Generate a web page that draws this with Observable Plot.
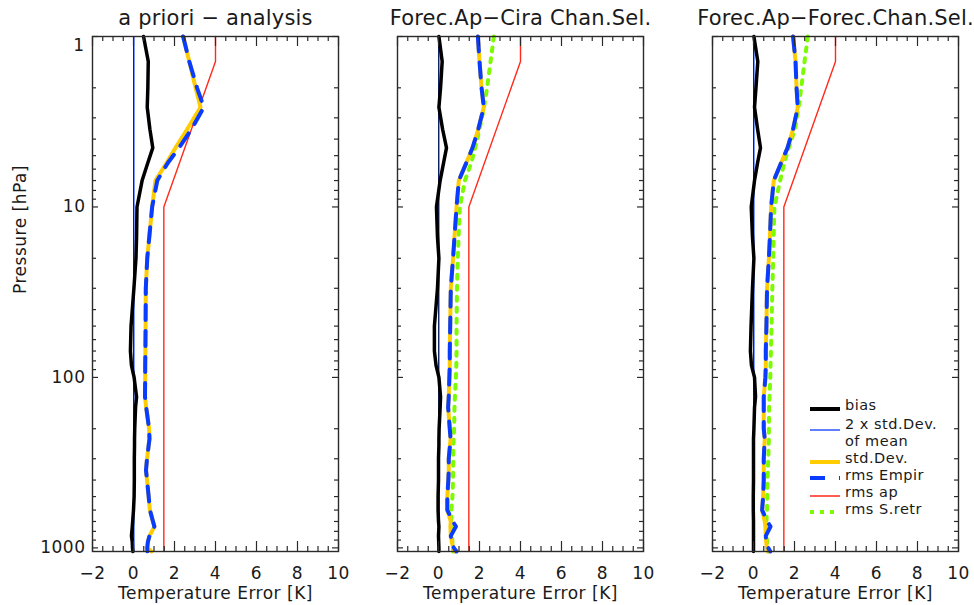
<!DOCTYPE html>
<html><head><meta charset="utf-8">
<script src="https://cdn.jsdelivr.net/npm/d3@7"></script>
<script src="https://cdn.jsdelivr.net/npm/@observablehq/plot@0.6"></script>
<style>
body{margin:0;background:#fff;}
#chart{position:relative;width:974px;height:605px;font-family:"DejaVu Sans",sans-serif;overflow:hidden;}
#chart svg{position:absolute;top:0;overflow:visible;background:transparent;}
#chart text{font-family:"DejaVu Sans",sans-serif;letter-spacing:0.5px;fill:#1a1a1a;}
#chart text.ttl{letter-spacing:0.2px;}
</style></head><body><div id="chart"></div>
<script>
// ---------- data ----------
const pressure = [1, 1.4, 2, 2.6, 3.5, 4.5, 5.5, 7, 10, 15, 20, 30, 50, 70, 85, 100, 130, 150, 200, 230, 250, 300, 350, 400, 500, 600, 700, 750, 850, 925, 1000, 1050];

const bias1 = [0.49, 0.72, 0.70, 0.67, 0.80, 0.94, 0.70, 0.42, 0.17, 0.15, 0.12, 0.02, -0.12, -0.15, -0.10, 0.03, 0.15, 0.10, 0.06, 0.05, 0.05, 0.04, 0.04, 0.04, 0.03, 0.00, -0.04, -0.06, -0.10, -0.06, -0.05, -0.03];
const std1  = [2.42, 2.72, 3.03, 3.27, 2.62, 2.05, 1.62, 1.07, 0.91, 0.77, 0.67, 0.60, 0.59, 0.58, 0.57, 0.57, 0.56, 0.62, 0.76, 0.78, 0.74, 0.66, 0.61, 0.66, 0.74, 0.80, 0.95, 1.02, 0.78, 0.70, 0.67, 0.88];
const emp1  = [2.42, 2.72, 3.10, 3.43, 2.83, 2.22, 1.68, 1.16, 0.91, 0.77, 0.67, 0.60, 0.59, 0.58, 0.57, 0.57, 0.56, 0.62, 0.76, 0.78, 0.74, 0.66, 0.61, 0.66, 0.74, 0.80, 0.95, 1.02, 0.78, 0.70, 0.67, 0.68];

const bias2 = [0.02, 0.18, 0.10, 0.02, 0.20, 0.39, 0.25, 0.08, -0.10, -0.05, 0.02, -0.05, -0.20, -0.20, -0.12, 0.02, 0.10, 0.08, 0.03, 0.02, 0.02, 0.00, 0.00, 0.00, -0.02, -0.02, 0.00, 0.02, 0.00, 0.01, 0.02, 0.02];
const std2  = [1.92, 2.00, 2.10, 2.21, 1.94, 1.66, 1.36, 0.99, 0.88, 0.78, 0.71, 0.60, 0.57, 0.55, 0.55, 0.53, 0.50, 0.47, 0.55, 0.59, 0.56, 0.50, 0.50, 0.48, 0.43, 0.43, 0.60, 0.58, 0.60, 0.65, 0.72, 0.78];
const emp2  = [1.92, 2.00, 2.10, 2.21, 1.94, 1.66, 1.36, 0.99, 0.88, 0.78, 0.71, 0.60, 0.57, 0.55, 0.55, 0.53, 0.50, 0.47, 0.55, 0.59, 0.56, 0.50, 0.50, 0.48, 0.43, 0.43, 0.70, 0.85, 0.60, 0.63, 0.75, 0.88];
const sretr2 = [2.70, 2.54, 2.37, 2.22, 2.00, 1.79, 1.60, 1.29, 1.04, 0.98, 0.94, 0.90, 0.88, 0.88, 0.87, 0.85, 0.80, 0.78, 0.76, 0.74, 0.72, 0.72, 0.71, 0.71, 0.68, 0.63, 0.62, 0.64, 0.66, 0.68, 0.70, 0.72];

const bias3 = [0.02, 0.21, 0.12, 0.05, 0.20, 0.34, 0.20, 0.05, -0.11, -0.05, 0.02, -0.05, -0.12, -0.15, -0.10, 0.05, 0.10, 0.05, 0.02, 0.00, 0.00, 0.00, 0.00, 0.00, -0.01, -0.01, 0.00, 0.00, 0.00, 0.00, 0.00, 0.00];
const std3  = [1.93, 2.05, 2.10, 2.16, 1.93, 1.66, 1.35, 0.99, 0.86, 0.80, 0.75, 0.66, 0.63, 0.60, 0.60, 0.58, 0.50, 0.50, 0.50, 0.55, 0.53, 0.50, 0.50, 0.50, 0.47, 0.42, 0.55, 0.58, 0.60, 0.62, 0.65, 0.70];
const emp3  = [1.93, 2.05, 2.10, 2.16, 1.93, 1.66, 1.35, 0.99, 0.86, 0.80, 0.75, 0.66, 0.63, 0.60, 0.60, 0.58, 0.50, 0.50, 0.50, 0.55, 0.53, 0.50, 0.50, 0.50, 0.47, 0.42, 0.68, 0.83, 0.60, 0.62, 0.72, 0.82];
const sretr3 = [2.65, 2.49, 2.33, 2.20, 2.02, 1.72, 1.50, 1.30, 1.02, 0.98, 0.96, 0.92, 0.88, 0.85, 0.83, 0.82, 0.78, 0.76, 0.75, 0.75, 0.74, 0.72, 0.70, 0.68, 0.67, 0.66, 0.63, 0.64, 0.64, 0.66, 0.70, 0.72];

// rms a priori (same in every panel)
const rmsApPressure = [1, 1.4, 10, 1050];
const rmsAp = [4.0, 4.0, 1.48, 1.48];
// 2 x std.Dev. of mean
const stdMeanPressure = [1, 1050];
const stdMean = [0.03, 0.03];

const titles = ["a priori \u2212 analysis", "Forec.Ap\u2212Cira Chan.Sel.", "Forec.Ap\u2212Forec.Chan.Sel."];
const xTickValues = [-2, 0, 2, 4, 6, 8, 10];
const yTickValues = [1, 10, 100, 1000];
const xLabel = "Temperature Error [K]";
const yLabel = "Pressure [hPa]";
const legendLabels = ["bias", "2 x std.Dev.", "std.Dev.", "rms Empir", "rms ap", "rms S.retr"];
const legendSecondLine = "of mean";

// ---------- helpers ----------
const xMinor = d3.range(-2, 10.001, 0.5).filter(v => !xTickValues.includes(v));
const yMinor = [];
[1, 10, 100].forEach(d => { for (let k = 2; k <= 9; k++) yMinor.push(d * k); });

const C = {
  black: "#000000", yellow: "#ffcc00", blue: "#0a3cff", thinBlue: "#2a55ff",
  red: "#ff2a1a", green: "#7cfc00", frame: "#2a2a2a"
};

const H = 605, MT = 36, MB = 54, IW = 246, IH = H - MT - MB;
const fmt = d => d < 0 ? "\u2212" + Math.abs(d) : String(d);

function panel(opts) {
  const {title, bias, std, emp, sretr, showY, left, marginLeft, marginRight} = opts;
  const rows = pressure.map((p, i) => ({p, bias: bias[i], std: std[i], emp: emp[i], sretr: sretr ? sretr[i] : null}));
  const apRows = rmsApPressure.map((p, i) => ({p, v: rmsAp[i]}));
  const smRows = stdMeanPressure.map((p, i) => ({p, v: stdMean[i]}));
  const tick = {stroke: C.frame, strokeWidth: 1.2};
  const marks = [
    Plot.ruleX([0], {stroke: C.black, strokeWidth: 1}),
    Plot.line(smRows, {x: "v", y: "p", stroke: C.thinBlue, strokeWidth: 1}),
    Plot.line(apRows, {x: "v", y: "p", stroke: C.red, strokeWidth: 1.4}),
    sretr ? Plot.line(rows, {x: "sretr", y: "p", stroke: C.green, strokeWidth: 4, strokeDasharray: "4,7"}) : null,
    Plot.line(rows, {x: "std", y: "p", stroke: C.yellow, strokeWidth: 4}),
    Plot.line(rows, {x: "emp", y: "p", stroke: C.blue, strokeWidth: 4, strokeDasharray: "15,11"}),
    Plot.line(rows, {x: "bias", y: "p", stroke: C.black, strokeWidth: 3.5}),
    // x ticks (inward, bottom & top)
    Plot.ruleX(xTickValues, {...tick, insetTop: IH - 10}),
    Plot.ruleX(xTickValues, {...tick, insetBottom: IH - 10}),
    Plot.ruleX(xMinor, {...tick, insetTop: IH - 5}),
    Plot.ruleX(xMinor, {...tick, insetBottom: IH - 5}),
    // y ticks (inward, left & right)
    Plot.ruleY(yTickValues, {...tick, insetRight: IW - 6}),
    Plot.ruleY(yTickValues, {...tick, insetLeft: IW - 6}),
    Plot.ruleY(yMinor, {...tick, insetRight: IW - 4}),
    Plot.ruleY(yMinor, {...tick, insetLeft: IW - 4}),
    Plot.frame({stroke: C.frame, strokeWidth: 1.4}),
    // texts
    Plot.text([title], {frameAnchor: "top", dy: -18, text: d => d, fontSize: 21, lineAnchor: "middle"}),
    Plot.text(xTickValues, {x: d => d, frameAnchor: "bottom", dy: 22, text: fmt, fontSize: 17, lineAnchor: "middle"}),
    Plot.text([xLabel], {frameAnchor: "bottom", dy: 42, text: d => d, fontSize: 17, lineAnchor: "middle"})
  ];
  if (showY) {
    marks.push(
      Plot.text(yTickValues.slice(0, 1), {y: d => d, frameAnchor: "left", dx: -8, dy: 9, text: d => String(d), textAnchor: "end", fontSize: 17, lineAnchor: "middle"}),
      Plot.text(yTickValues.slice(1), {y: d => d, frameAnchor: "left", dx: -7, text: d => String(d), textAnchor: "end", fontSize: 17, lineAnchor: "middle"}),
      Plot.text([yLabel], {frameAnchor: "left", dx: -72, rotate: -90, text: d => d, fontSize: 17, lineAnchor: "middle"})
    );
  }
  const svg = Plot.plot({
    width: marginLeft + IW + marginRight,
    height: H,
    marginTop: MT, marginBottom: MB, marginLeft, marginRight,
    x: {domain: [-2, 10], axis: null},
    y: {type: "log", domain: [1, 1050], reverse: true, axis: null},
    marks: marks.filter(Boolean)
  });
  svg.style.left = left + "px";
  svg.querySelectorAll("g[aria-label='text']").forEach(g => {
    if (g.textContent === title) g.querySelectorAll("text").forEach(t => t.classList.add("ttl"));
  });
  return svg;
}

const chart = document.getElementById("chart");
chart.appendChild(panel({title: titles[0], bias: bias1, std: std1, emp: emp1, sretr: null, showY: true, left: 0, marginLeft: 92, marginRight: 12}));
chart.appendChild(panel({title: titles[1], bias: bias2, std: std2, emp: emp2, sretr: sretr2, showY: false, left: 350, marginLeft: 47, marginRight: 17}));
chart.appendChild(panel({title: titles[2], bias: bias3, std: std3, emp: emp3, sretr: sretr3, showY: false, left: 660, marginLeft: 52, marginRight: 16}));

// ---------- legend (inside third panel) ----------
const lg = d3.select(chart).append("svg")
  .attr("width", 165).attr("height", 130)
  .style("left", "805px").style("top", "395px");
const legendStyles = [
  {stroke: C.black, w: 4, dash: null, ly: 14, ty: 10},
  {stroke: C.thinBlue, w: 1.5, dash: null, ly: 35, ty: 29},
  {stroke: C.yellow, w: 4, dash: null, ly: 67, ty: 63},
  {stroke: C.blue, w: 4, dash: "15,14", ly: 83, ty: 80},
  {stroke: C.red, w: 1.5, dash: null, ly: 101, ty: 97},
  {stroke: C.green, w: 4, dash: "4,6", ly: 117, ty: 114}
];
legendLabels.forEach((lab, i) => {
  const s = legendStyles[i];
  lg.append("line").attr("x1", 5).attr("x2", 35).attr("y1", s.ly).attr("y2", s.ly)
    .attr("stroke", s.stroke).attr("stroke-width", s.w).attr("stroke-dasharray", s.dash);
  lg.append("text").attr("x", 40).attr("y", s.ty).attr("dominant-baseline", "central")
    .attr("font-size", 14.5).text(lab);
  if (i === 1) {
    lg.append("text").attr("x", 40).attr("y", 46).attr("dominant-baseline", "central")
      .attr("font-size", 14.5).text(legendSecondLine);
  }
});
</script>
</body></html>
